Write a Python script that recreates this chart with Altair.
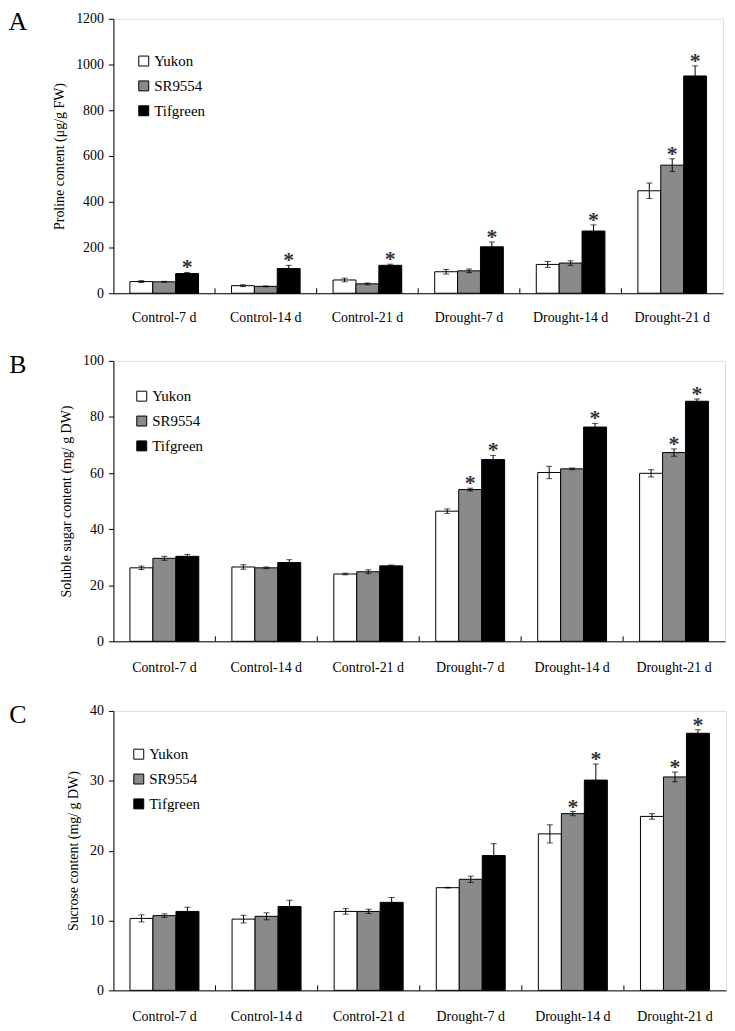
import altair as alt
import pandas as pd

groups = ["Control-7 d", "Control-14 d", "Control-21 d", "Drought-7 d", "Drought-14 d", "Drought-21 d"]
cultivars = ["Yukon", "SR9554", "Tifgreen"]

# Panel A: proline (ug/g FW)
proline_yukon = [51, 33, 58, 94, 126, 448]
proline_sr9554 = [50, 30, 41, 98, 132, 560]
proline_tifgreen = [86, 108, 122, 203, 272, 950]
proline_err_yukon = [4, 4, 8, 10, 13, 34]
proline_err_sr9554 = [2, 2, 4, 8, 10, 28]
proline_err_tifgreen = [5, 14, 5, 21, 27, 44]
proline_star_sr9554 = [0, 0, 0, 0, 0, 1]
proline_star_tifgreen = [1, 1, 1, 1, 1, 1]

# Panel B: soluble sugar (mg/g DW)
sugar_yukon = [26.2, 26.5, 24.0, 46.4, 60.2, 59.9]
sugar_sr9554 = [29.6, 26.2, 24.8, 54.1, 61.5, 67.3]
sugar_tifgreen = [30.3, 28.1, 26.9, 64.8, 76.4, 85.6]
sugar_err_yukon = [0.6, 0.8, 0.3, 0.8, 2.2, 1.3]
sugar_err_sr9554 = [0.7, 0.3, 0.7, 0.5, 0.3, 1.3]
sugar_err_tifgreen = [0.7, 1.0, 0.3, 1.5, 1.3, 0.8]
sugar_star_sr9554 = [0, 0, 0, 1, 0, 1]
sugar_star_tifgreen = [0, 0, 0, 1, 1, 1]

# Panel C: sucrose (mg/g DW)
sucrose_yukon = [10.3, 10.2, 11.3, 14.7, 22.4, 24.9]
sucrose_sr9554 = [10.7, 10.6, 11.3, 15.9, 25.3, 30.55]
sucrose_tifgreen = [11.3, 12.0, 12.6, 19.3, 30.1, 36.8]
sucrose_err_yukon = [0.5, 0.55, 0.4, 0.05, 1.3, 0.4]
sucrose_err_sr9554 = [0.25, 0.5, 0.3, 0.45, 0.3, 0.7]
sucrose_err_tifgreen = [0.6, 0.9, 0.7, 1.7, 2.3, 0.5]
sucrose_star_sr9554 = [0, 0, 0, 0, 1, 1]
sucrose_star_tifgreen = [0, 0, 0, 0, 1, 1]

FONT = "Liberation Serif"
FILLS = ["white", "#8a8a8a", "black"]


def make_df(vals, errs, stars):
    rows = []
    for c, v, e, s in zip(cultivars, vals, errs, stars):
        for i, g in enumerate(groups):
            rows.append({"group": g, "cultivar": c, "value": v[i],
                         "lo": v[i] - e[i], "hi": v[i] + e[i], "star": s[i]})
    return pd.DataFrame(rows)


def panel(df, letter, ytitle, ymax, ystep, width, height, legx, legy, letx, lety, xpad):
    xs = alt.Scale(domain=groups, paddingInner=0, paddingOuter=0)
    xo = alt.Scale(domain=cultivars, paddingInner=0, paddingOuter=0.72)
    ys = alt.Scale(domain=[0, ymax], nice=False)
    X = alt.X("group:N", scale=xs, sort=groups,
              axis=alt.Axis(title=None, ticks=False, labelAngle=0, labelPadding=xpad,
                            labelFont=FONT, labelFontSize=14, labelColor="black",
                            domainColor="black"))
    XO = alt.XOffset("cultivar:N", scale=xo, sort=cultivars)
    Y = alt.Y("value:Q", scale=ys,
              axis=alt.Axis(title=ytitle, values=list(range(0, ymax + 1, ystep)),
                            format="d", labelOverlap=False,
                            grid=False, tickSize=5, labelPadding=5, tickColor="black",
                            domainColor="black", labelFont=FONT, labelFontSize=14,
                            labelColor="black", titleFont=FONT, titleFontSize=14,
                            titleFontWeight="normal", titleColor="black", titlePadding=9))
    base = alt.Chart(df)
    bars = base.mark_bar(stroke="black", strokeWidth=1).encode(
        x=X, xOffset=XO, y=Y,
        fill=alt.Fill("cultivar:N", sort=cultivars,
                      scale=alt.Scale(domain=cultivars, range=FILLS),
                      legend=alt.Legend(title=None, orient="none", legendX=legx, legendY=legy,
                                        symbolType="square", symbolSize=100,
                                        symbolStrokeColor="black", symbolStrokeWidth=1,
                                        symbolOpacity=1,
                                        labelFont=FONT, labelFontSize=15, labelColor="black",
                                        labelOffset=3, rowPadding=9)),
    )
    err = base.mark_rule(color="black", strokeWidth=1).encode(
        x=alt.X("group:N", scale=xs, sort=groups), xOffset=XO,
        y=alt.Y("lo:Q", scale=ys), y2="hi:Q")
    cap_hi = base.mark_tick(color="black", thickness=1, size=6).encode(
        x=alt.X("group:N", scale=xs, sort=groups), xOffset=XO, y=alt.Y("hi:Q", scale=ys))
    cap_lo = base.mark_tick(color="black", thickness=1, size=6).encode(
        x=alt.X("group:N", scale=xs, sort=groups), xOffset=XO, y=alt.Y("lo:Q", scale=ys))
    stars = base.transform_filter("datum.star == 1").mark_text(
        text="*", font=FONT, fontSize=22, fontWeight="bold", color="#333",
        baseline="alphabetic", dy=2).encode(
        x=alt.X("group:N", scale=xs, sort=groups), xOffset=XO, y=alt.Y("hi:Q", scale=ys))
    sep = alt.Chart(pd.DataFrame({"group": groups[1:]})).mark_rule(
        color="black", strokeWidth=1).encode(
        x=alt.X("group:N", scale=xs, sort=groups, bandPosition=0),
        y=alt.value(height), y2=alt.value(height - 5))
    lab = alt.Chart(pd.DataFrame({"t": [letter]})).mark_text(
        font=FONT, fontSize=26, color="black", align="center", baseline="middle").encode(
        text="t:N", x=alt.value(letx), y=alt.value(lety))
    return alt.layer(bars, err, cap_hi, cap_lo, stars, sep, lab).properties(
        width=width, height=height)


dfA = make_df([proline_yukon, proline_sr9554, proline_tifgreen],
              [proline_err_yukon, proline_err_sr9554, proline_err_tifgreen],
              [[0] * 6, proline_star_sr9554, proline_star_tifgreen])
dfB = make_df([sugar_yukon, sugar_sr9554, sugar_tifgreen],
              [sugar_err_yukon, sugar_err_sr9554, sugar_err_tifgreen],
              [[0] * 6, sugar_star_sr9554, sugar_star_tifgreen])
dfC = make_df([sucrose_yukon, sucrose_sr9554, sucrose_tifgreen],
              [sucrose_err_yukon, sucrose_err_sr9554, sucrose_err_tifgreen],
              [[0] * 6, sucrose_star_sr9554, sucrose_star_tifgreen])

pA = panel(dfA, "A", "Proline content (μg/g FW)", 1200, 200, 613, 276, 23, 35, -96, 3, 17)
pB = panel(dfB, "B", "Soluble sugar content (mg/ g DW)", 100, 10, 615, 282, 21, 28, -96, 4, 19)
pC = panel(dfC, "C", "Sucrose content (mg/ g DW)", 40, 5, 616, 281, 18, 36, -96, 4, 19)

chart = alt.vconcat(pA, pB, pC, spacing=26).resolve_scale(
    fill="independent", x="independent", y="independent", xOffset="independent"
).resolve_legend(fill="independent").properties(
    padding={"left": 0, "top": -3, "right": 0, "bottom": 0}
).configure_view(stroke="black", strokeWidth=1).configure_legend(
    labelFont=FONT
).configure(background="white")

chart.save("out.html", embed_options={"renderer": "svg", "actions": False})
